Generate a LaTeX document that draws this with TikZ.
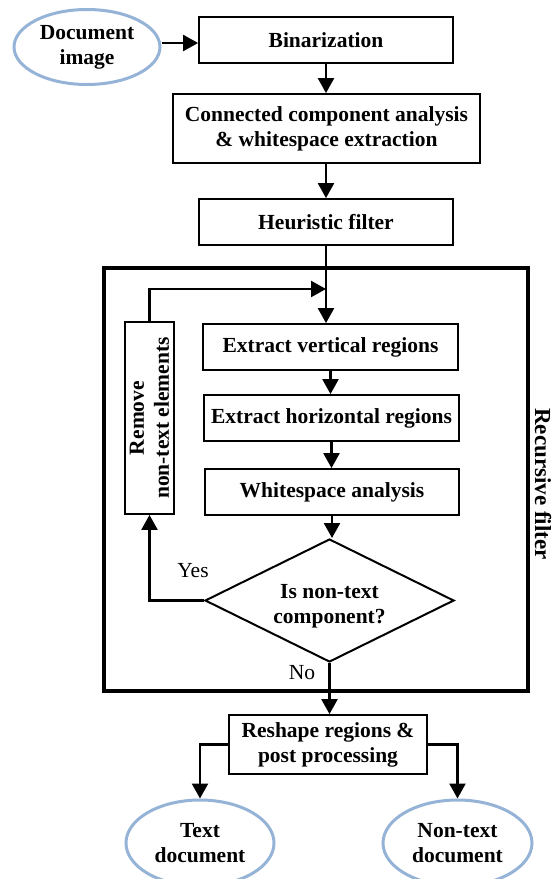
\documentclass[tikz,border=0pt]{standalone}
\usepackage{fontspec}
\setmainfont{Liberation Serif}
\usetikzlibrary{shapes.geometric,arrows.meta}
\definecolor{ellblue}{HTML}{95B3D7}
\begin{document}
\begin{tikzpicture}[x=1pt,y=-1pt,
  every node/.style={font=\fontsize{21.5}{25}\selectfont\bfseries, align=center},
  box/.style={draw, line width=1.8pt, rectangle, inner sep=0pt},
  oval/.style={draw=ellblue, line width=3pt, ellipse, inner sep=0pt},
  arr/.style={draw, line width=2.3pt, -{Triangle[length=15pt,width=16pt]}},
  plain/.style={font=\fontsize{21.5}{25}\selectfont}
]
\useasboundingbox (0,0) rectangle (555,879);
\clip (0,0) rectangle (555,879);
% outer recursive filter frame
\node[draw, line width=3.6pt, minimum width=424pt, minimum height=423pt, inner sep=0pt] (rf) at (316,479.5) {};
\node[rotate=-90, font=\fontsize{23}{27}\selectfont\bfseries, inner sep=0pt] (rflabel) at (543,484) {Recursive filter};

\node[oval, minimum width=146pt, minimum height=75pt] (doc) at (87,47) {Document\\image};
\node[box, minimum width=254pt, minimum height=46pt] (bin) at (326,40) {Binarization};
\node[box, minimum width=307pt, minimum height=69pt] (cca) at (326.5,128.5) {Connected component analysis\\\& whitespace extraction};
\node[box, minimum width=254pt, minimum height=46pt] (heur) at (326,222) {Heuristic filter};

\node[box, minimum width=49pt, minimum height=192pt] (rem) at (149.5,418) {};
\node[rotate=90] (remtext) at (rem.center) {Remove\\non-text elements};
\node[box, minimum width=255pt, minimum height=46pt] (ev) at (330.5,347) {Extract vertical regions};
\node[box, minimum width=255pt, minimum height=46pt] (eh) at (331.5,418) {Extract horizontal regions};
\node[box, minimum width=254pt, minimum height=46pt] (ws) at (332,492) {Whitespace analysis};
\node[draw, line width=2pt, diamond, shape aspect=2, inner sep=0pt, minimum width=249pt, minimum height=123pt] (dia) at (329.5,600.5) {};
\node (diatext) at (329.5,606) {Is non-text\\component?};

\node[plain] (yes) at (193,571) {Yes};
\node[plain] (no) at (302,673) {No};

\node[box, minimum width=198pt, minimum height=59pt] (rs) at (328,744.5) {Reshape regions \&\\post processing};
\node[oval, minimum width=148pt, minimum height=86pt] (td) at (200,843) {Text\\document};
\node[oval, minimum width=149pt, minimum height=86pt] (nt) at (457.5,843) {Non-text\\document};

\coordinate (join) at (326,289);

\draw[arr] (doc.east |- 0,43) -- (bin.west |- 0,43);
\draw[arr] (bin.south) -- (bin.south |- cca.north);
\draw[arr] (heur.south |- cca.south) -- (heur.south |- heur.north);
\draw[arr] (heur.south) -- (heur.south |- ev.north);
\draw[arr] (rem.north) |- (join);
\draw[arr] (ev.south) -- (ev.south |- eh.north);
\draw[arr] (eh.south) -- (eh.south |- ws.north);
\draw[arr] (ws.south) -- (ws.south |- dia.north);
\draw[arr] (dia.west) -| (rem.south);
\draw[arr] (dia.south) -- (dia.south |- rs.north);
\draw[arr] (rs.west) -| (td.north);
\draw[arr] (rs.east) -| (nt.north);
\end{tikzpicture}
\end{document}
